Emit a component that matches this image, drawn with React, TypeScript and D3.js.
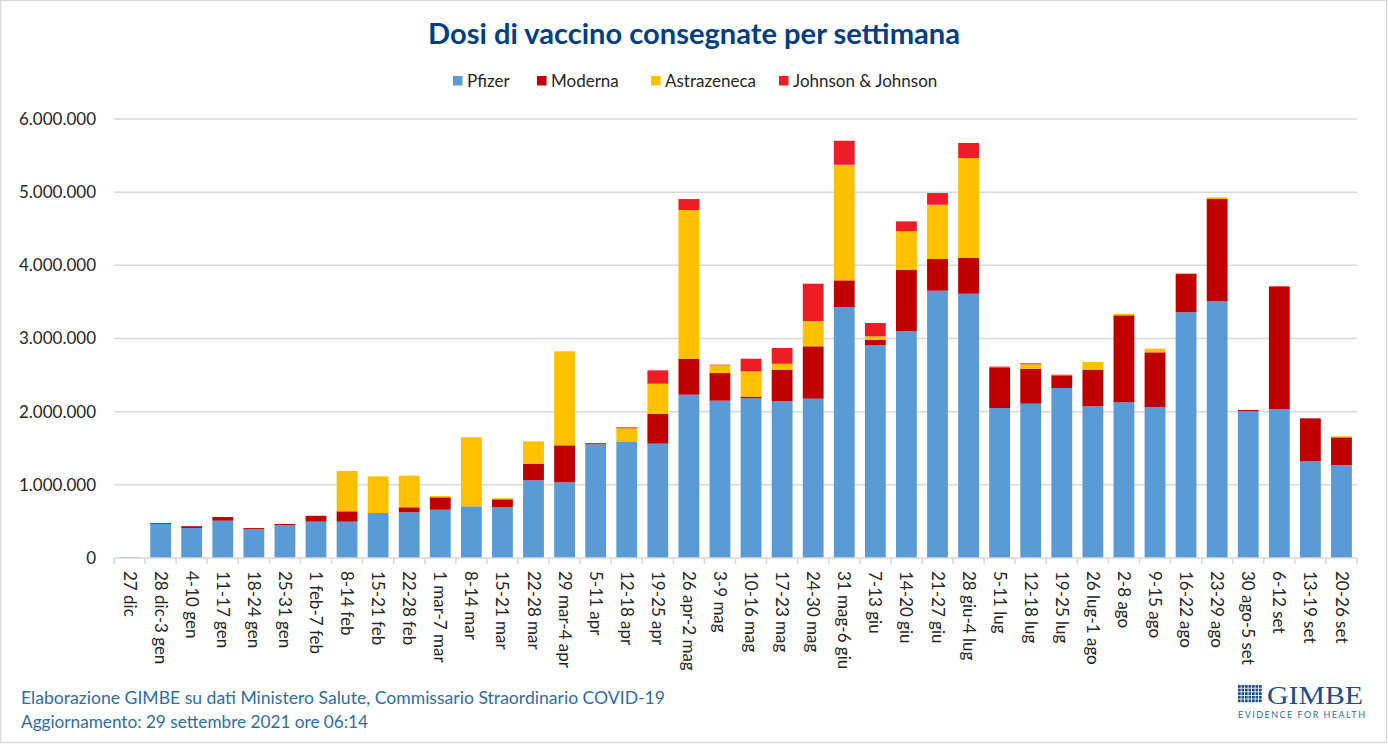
import React from "react";
import * as d3 from "d3";

const categories = [
  "27 dic", "28 dic-3 gen", "4-10 gen", "11-17 gen", "18-24 gen", "25-31 gen", "1 feb-7 feb",
  "8-14 feb", "15-21 feb", "22-28 feb", "1 mar-7 mar", "8-14 mar", "15-21 mar", "22-28 mar",
  "29 mar-4 apr", "5-11 apr", "12-18 apr", "19-25 apr", "26 apr-2 mag", "3-9 mag", "10-16 mag",
  "17-23 mag", "24-30 mag", "31 mag-6 giu", "7-13 giu", "14-20 giu", "21-27 giu", "28 giu-4 lug",
  "5-11 lug", "12-18 lug", "19-25 lug", "26 lug-1 ago", "2-8 ago", "9-15 ago", "16-22 ago",
  "23-29 ago", "30 ago-5 set", "6-12 set", "13-19 set", "20-26 set",
];

const pfizer = [
  9750, 465000, 410000, 510000, 396000, 451000, 497000, 497000, 615000, 624000, 660000, 706000,
  697000, 1062000, 1034000, 1554000, 1594000, 1563000, 2232000, 2150000, 2182000, 2141000,
  2177000, 3430000, 2907000, 3098000, 3653000, 3612000, 2050000, 2109000, 2323000, 2073000,
  2128000, 2064000, 3358000, 3508000, 2005000, 2036000, 1321000, 1271000,
];
const moderna = [
  0, 12000, 25000, 50000, 13000, 14000, 80000, 141000, 0, 69000, 169000, 0, 105000, 227000,
  506000, 15000, 0, 409000, 492000, 378000, 23000, 433000, 716000, 365000, 72000, 842000, 433000,
  488000, 551000, 478000, 169000, 501000, 1189000, 747000, 523000, 1398000, 18000, 1668000,
  588000, 378000,
];
const astrazeneca = [
  0, 0, 0, 0, 0, 0, 0, 551000, 501000, 432000, 18000, 945000, 15000, 305000, 1285000, 0, 178000,
  410000, 2032000, 105000, 346000, 81000, 346000, 1580000, 51000, 525000, 742000, 1367000, 0,
  60000, 0, 105000, 22000, 50000, 14000, 23000, 0, 0, 0, 14000,
];
const johnson = [
  0, 0, 0, 0, 0, 0, 0, 0, 0, 0, 0, 0, 0, 0, 0, 0, 14000, 183000, 150000, 9000, 173000, 215000,
  510000, 328000, 182000, 136000, 160000, 205000, 15000, 14000, 13000, 0, 0, 0, 0, 0, 0, 10000,
  0, 0,
];

const seriesNames = ["Pfizer", "Moderna", "Astrazeneca", "Johnson & Johnson"];
const seriesColors = ["#5B9BD5", "#C00000", "#FFC000", "#EE1D25"];
const yTicks = [0, 1000000, 2000000, 3000000, 4000000, 5000000, 6000000];

const W = 1388;
const H = 744;
const M = { left: 114, right: 1357, top: 119, bottom: 558 };
const FONT = "Lato, 'Open Sans', sans-serif";

export default function App() {
  const rows = categories.map((c, i) => ({
    cat: c,
    Pfizer: pfizer[i],
    Moderna: moderna[i],
    Astrazeneca: astrazeneca[i],
    "Johnson & Johnson": johnson[i],
  }));
  const stacked = d3.stack<any>().keys(seriesNames)(rows);
  const x = d3.scaleBand<string>().domain(categories).range([M.left, M.right]).paddingInner(0.33).paddingOuter(0.165);
  const xb = d3.scaleBand<string>().domain(categories).range([M.left, M.right]);
  const y = d3.scaleLinear().domain([0, 6000000]).range([M.bottom, M.top]);
  const fmt = (v: number) => d3.format(",")(v).replace(/,/g, ".");

  const legendX = [453, 537, 651, 779];

  const logoSquares: { cx: number; cy: number }[] = [];
  for (let r = 0; r < 5; r++) for (let c = 0; c < 7; c++) logoSquares.push({ cx: c, cy: r });

  return (
    <svg width={W} height={H} style={{ position: "absolute", left: 0, top: 0, background: "#fff" }} fontFamily={FONT}>
      <rect x={0.5} y={0.5} width={W - 2} height={H - 2} fill="#fff" stroke="#D9D9D9" strokeWidth={1.5} />
      <text x={694} y={44} textAnchor="middle" fontSize={29} fontWeight={700} fill="#003F87" textLength={532} lengthAdjust="spacingAndGlyphs">
        Dosi di vaccino consegnate per settimana
      </text>
      {seriesNames.map((s, i) => (
        <g key={s}>
          <rect x={legendX[i]} y={76} width={9.5} height={9.5} fill={seriesColors[i]} />
          <text x={legendX[i] + 14} y={87} fontSize={17} fill="#262626">{s}</text>
        </g>
      ))}
      {yTicks.map((t) => (
        <g key={t}>
          {t > 0 && <line x1={M.left} x2={M.right} y1={y(t)} y2={y(t)} stroke="#D9D9D9" strokeWidth={1.5} />}
          <text x={96} y={y(t)} dy="0.35em" textAnchor="end" fontSize={17} fill="#262626">{fmt(t)}</text>
        </g>
      ))}
      {stacked.map((layer, si) => (
        <g key={layer.key} fill={seriesColors[si]}>
          {layer.map((d, i) =>
            d[1] - d[0] > 0 ? (
              <rect key={i} x={x(categories[i])} width={x.bandwidth()} y={y(d[1])} height={y(d[0]) - y(d[1])} />
            ) : null
          )}
        </g>
      ))}
      <line x1={M.left} x2={M.right} y1={M.bottom} y2={M.bottom} stroke="#D9D9D9" strokeWidth={1.5} />
      {categories.map((c) => (
        <line key={"t" + c} x1={xb(c)} x2={xb(c)} y1={M.bottom} y2={M.bottom + 6} stroke="#D9D9D9" strokeWidth={1.5} />
      ))}
      <line x1={M.right} x2={M.right} y1={M.bottom} y2={M.bottom + 6} stroke="#D9D9D9" strokeWidth={1.5} />
      {categories.map((c) => (
        <text
          key={"l" + c}
          transform={`translate(${(xb(c) as number) + xb.bandwidth() / 2},571) rotate(90)`}
          dy="0.35em"
          fontSize={17}
          fill="#262626"
        >
          {c}
        </text>
      ))}
      <text x={21} y={704} fontSize={17.5} fill="#2E6DA4" textLength={644} lengthAdjust="spacingAndGlyphs">
        Elaborazione GIMBE su dati Ministero Salute, Commissario Straordinario COVID-19
      </text>
      <text x={21} y={728} fontSize={17.5} fill="#2E6DA4" textLength={347} lengthAdjust="spacingAndGlyphs">
        Aggiornamento: 29 settembre 2021 ore 06:14
      </text>
      <g>
        {logoSquares.map((s, i) => (
          <rect key={i} x={1238 + s.cx * 3.5} y={685 + s.cy * 3.6} width={2.7} height={2.8} fill="#1B4F8C" />
        ))}
        <text x={1267} y={703.5} fontSize={26} fontFamily="'Liberation Serif', serif" fill="#1B4F8C" textLength={96} lengthAdjust="spacingAndGlyphs">
          GIMBE
        </text>
        <text x={1238} y={717.5} fontSize={9} fill="#2E6DA4" textLength={127} lengthAdjust="spacing">
          EVIDENCE FOR HEALTH
        </text>
      </g>
    </svg>
  );
}
